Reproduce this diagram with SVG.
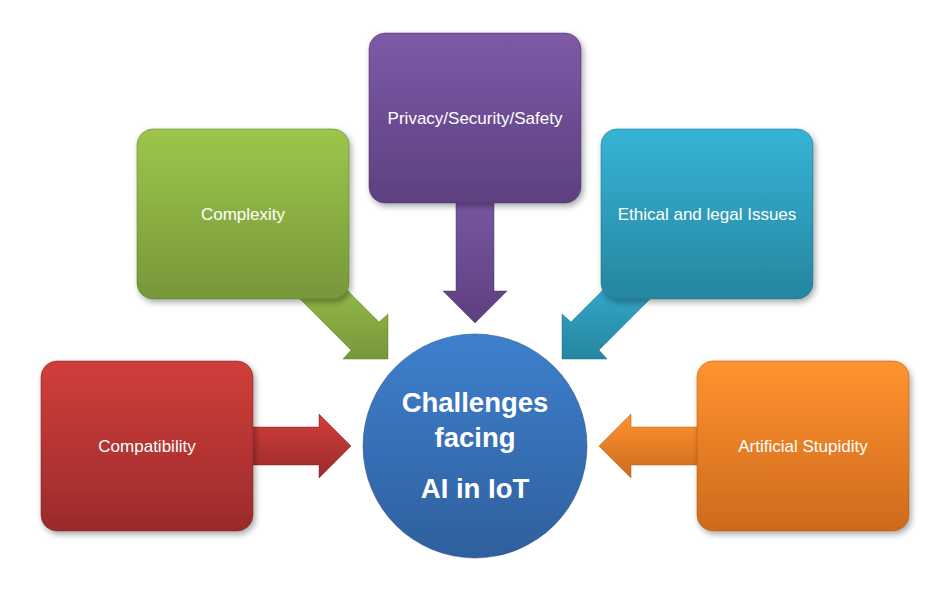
<svg xmlns="http://www.w3.org/2000/svg" width="950" height="600" viewBox="0 0 950 600">
<defs>
<linearGradient id="gGreen" x1="0" y1="0" x2="0" y2="1"><stop offset="0" stop-color="#9DC64B"/><stop offset="1" stop-color="#77973A"/></linearGradient>
<linearGradient id="gPurple" x1="0" y1="0" x2="0" y2="1"><stop offset="0" stop-color="#7C5AA7"/><stop offset="1" stop-color="#5D407F"/></linearGradient>
<linearGradient id="gTeal" x1="0" y1="0" x2="0" y2="1"><stop offset="0" stop-color="#36B3D6"/><stop offset="1" stop-color="#26869F"/></linearGradient>
<linearGradient id="gRed" x1="0" y1="0" x2="0" y2="1"><stop offset="0" stop-color="#D03E3A"/><stop offset="1" stop-color="#9B2B2B"/></linearGradient>
<linearGradient id="gOrange" x1="0" y1="0" x2="0" y2="1"><stop offset="0" stop-color="#FF932E"/><stop offset="1" stop-color="#CE6A1E"/></linearGradient>
<linearGradient id="gBlue" x1="0" y1="0" x2="0" y2="1"><stop offset="0" stop-color="#3E80CD"/><stop offset="1" stop-color="#2F5F9D"/></linearGradient>
<filter id="shadow" x="-10%" y="-10%" width="130%" height="130%"><feDropShadow dx="2" dy="3" stdDeviation="3" flood-color="#000" flood-opacity="0.35"/></filter>
</defs>
<style>
.box{filter:url(#shadow);stroke-width:1;stroke-opacity:0.5}
.lbl{font-family:"Liberation Sans",Arial,sans-serif;font-size:17px;fill:#FFFFFF;text-anchor:middle}
.title{font-family:"Liberation Sans",Arial,sans-serif;font-size:27.5px;font-weight:bold;fill:#FFFFFF;text-anchor:middle}
.arr{stroke-width:0.8;stroke-opacity:0.6}
</style>
<rect width="950" height="600" fill="#FFFFFF"/>
<g id="connectors">
<polygon class="arr" fill="url(#gRed)" stroke="#7A2020" points="230,427 319,427 319,414 351,446 319,478 319,465 230,465"/>
<polygon class="arr" fill="url(#gGreen)" stroke="#5A7528" points="319,262 379,322 388,314 388,359 343,359 351,350 291,290"/>
<polygon class="arr" fill="url(#gPurple)" stroke="#4A3266" points="456,180 494,180 494,291 507,291 475,323 443,291 456,291"/>
<polygon class="arr" fill="url(#gTeal)" stroke="#1E6C80" points="631,262 571,322 562,314 562,359 607,359 599,350 659,290"/>
<polygon class="arr" fill="url(#gOrange)" stroke="#A85515" points="720,427 631,427 631,414 599,446 631,478 631,465 720,465"/>
</g>
<g id="node-compatibility">
<rect class="box" x="41" y="361" width="212" height="170" rx="16" fill="url(#gRed)" stroke="#7A2020"/>
<text class="lbl" x="147" y="452">Compatibility</text>
</g>
<g id="node-complexity">
<rect class="box" x="137" y="129" width="212" height="170" rx="16" fill="url(#gGreen)" stroke="#5A7528"/>
<text class="lbl" x="243" y="220">Complexity</text>
</g>
<g id="node-privacy">
<rect class="box" x="369" y="33" width="212" height="170" rx="16" fill="url(#gPurple)" stroke="#4A3266"/>
<text class="lbl" x="475" y="124">Privacy/Security/Safety</text>
</g>
<g id="node-ethical">
<rect class="box" x="601" y="129" width="212" height="170" rx="16" fill="url(#gTeal)" stroke="#1E6C80"/>
<text class="lbl" x="707" y="220">Ethical and legal Issues</text>
</g>
<g id="node-stupidity">
<rect class="box" x="697" y="361" width="212" height="170" rx="16" fill="url(#gOrange)" stroke="#A85515"/>
<text class="lbl" x="803" y="452">Artificial Stupidity</text>
</g>
<g id="node-center">
<circle cx="475" cy="446" r="112" fill="url(#gBlue)" stroke="#24497A" stroke-width="1" stroke-opacity="0.5"/>
<text class="title" x="475" y="412">Challenges</text>
<text class="title" x="475" y="447">facing</text>
<text class="title" x="475" y="498">AI in IoT</text>
</g>
</svg>
